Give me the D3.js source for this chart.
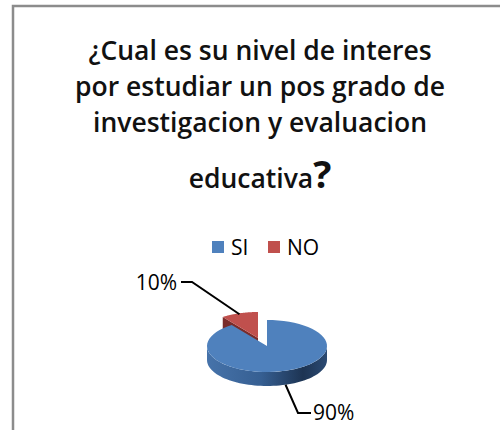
<!DOCTYPE html>
<html>
<head>
<meta charset="utf-8">
<script src="https://cdn.jsdelivr.net/npm/d3@7"></script>
<style>
  body { margin: 0; background: #fff; }
  svg { display: block; font-family: "Open Sans", "Noto Sans", sans-serif; }
</style>
</head>
<body>
<div id="chart"></div>
<script>
// data
const categories = ["SI", "NO"];
const values = [90, 10];
const labels = ["90%", "10%"];
const colors = ["#4F81BD", "#C0504D"];
const titleLines = [
  "¿Cual es su nivel de interes",
  "por estudiar un pos grado de",
  "investigacion y evaluacion",
  "educativa"
];

const width = 500, height = 430;

const svg = d3.select("#chart")
  .append("svg")
  .attr("width", width)
  .attr("height", height);

// chart frame (runs off right and bottom)
svg.append("rect")
  .attr("x", 13)
  .attr("y", 6)
  .attr("width", 600)
  .attr("height", 600)
  .attr("fill", "#fff")
  .attr("stroke", "#8c8c8c")
  .attr("stroke-width", 2.5);

// title
const title = svg.append("g").attr("font-weight", 600).attr("fill", "#111");
const titleX = 260;
const titleY = [60, 96, 132];
titleLines.slice(0, 3).forEach((t, i) => {
  title.append("text")
    .attr("x", titleX)
    .attr("y", titleY[i])
    .attr("text-anchor", "middle")
    .attr("font-size", 26.5)
    .text(t);
});
const last = title.append("text")
  .attr("x", titleX)
  .attr("y", 188)
  .attr("text-anchor", "middle")
  .attr("font-size", 26.5);
last.append("tspan").text(titleLines[3]);
last.append("tspan").attr("font-size", 38).attr("font-weight", 700).text("?");

// legend
const legend = svg.append("g").attr("transform", "translate(212,241)");
const legX = [0, 56];
categories.forEach((c, i) => {
  legend.append("rect")
    .attr("x", legX[i])
    .attr("y", 0)
    .attr("width", 12)
    .attr("height", 12)
    .attr("fill", colors[i]);
  legend.append("text")
    .attr("x", legX[i] + 19)
    .attr("y", 13.5)
    .attr("font-size", 21)
    .attr("fill", "#000")
    .text(c);
});

// 3D pie
const cx = 267, cy = 346, rx = 60, ry = 26, depth = 14;
const explodeOffset = [-9, -8];

const pie = d3.pie().sort(null).value((d) => d);
const arcs = pie(values);

// point on ellipse for a pie angle (0 = top, clockwise)
function pt(a, ox, oy, dz) {
  return [ox + rx * Math.sin(a), oy - ry * Math.cos(a) + (dz || 0)];
}

function topPath(a0, a1, ox, oy) {
  const p = d3.path();
  p.moveTo(ox, oy);
  const n = 60;
  for (let i = 0; i <= n; i++) {
    const a = a0 + (a1 - a0) * i / n;
    const q = pt(a, ox, oy);
    p.lineTo(q[0], q[1]);
  }
  p.closePath();
  return p.toString();
}

// outer side, only the front half (pi/2 .. 3pi/2) is visible
function sidePath(a0, a1, ox, oy) {
  const s = Math.max(a0, Math.PI / 2), e = Math.min(a1, 3 * Math.PI / 2);
  if (e <= s) return null;
  const p = d3.path();
  const n = 60;
  for (let i = 0; i <= n; i++) {
    const q = pt(s + (e - s) * i / n, ox, oy);
    i === 0 ? p.moveTo(q[0], q[1]) : p.lineTo(q[0], q[1]);
  }
  for (let i = n; i >= 0; i--) {
    const q = pt(s + (e - s) * i / n, ox, oy, depth);
    p.lineTo(q[0], q[1]);
  }
  p.closePath();
  return p.toString();
}

function wallPath(a, ox, oy) {
  const q = pt(a, ox, oy);
  return `M${ox},${oy}L${q[0]},${q[1]}L${q[0]},${q[1] + depth}L${ox},${oy + depth}Z`;
}

const defs = svg.append("defs");
const grad = defs.append("linearGradient")
  .attr("id", "sideBlue")
  .attr("gradientUnits", "userSpaceOnUse")
  .attr("x1", cx - rx).attr("x2", cx + rx)
  .attr("y1", 0).attr("y2", 0);
grad.append("stop").attr("offset", "0%").attr("stop-color", "#4673aa");
grad.append("stop").attr("offset", "45%").attr("stop-color", "#365f92");
grad.append("stop").attr("offset", "80%").attr("stop-color", "#1d3453");
grad.append("stop").attr("offset", "100%").attr("stop-color", "#2b4a73");

const pieG = svg.append("g");

// offsets per slice (the NO slice is pulled out)
const offs = arcs.map((d, i) =>
  i === 0 ? [cx, cy] : [cx + explodeOffset[0], cy + explodeOffset[1]]
);

// draw exploded NO slice first (it sits behind)
[1, 0].forEach((i) => {
  const d = arcs[i];
  const [ox, oy] = offs[i];
  const sp = sidePath(d.startAngle, d.endAngle, ox, oy);
  if (sp) pieG.append("path").attr("d", sp).attr("fill", i === 0 ? "url(#sideBlue)" : "#7d2f2d");
  if (i === 1) {
    pieG.append("path").attr("d", wallPath(d.startAngle, ox, oy)).attr("fill", "#7a2c2a");
  }
  pieG.append("path")
    .attr("d", topPath(d.startAngle, d.endAngle, ox, oy))
    .attr("fill", colors[i]);
});

// data labels with leader lines
const lab = svg.append("g").attr("font-size", 21).attr("fill", "#000");

// NO label
{
  const d = arcs[1];
  const m = (d.startAngle + d.endAngle) / 2;
  const [ox, oy] = offs[1];
  const a = pt(m, ox, oy);
  lab.append("path")
    .attr("d", `M${a[0]},${a[1] + 1}L192,282L181,282`)
    .attr("fill", "none").attr("stroke", "#000").attr("stroke-width", 2);
  lab.append("text").attr("x", 177).attr("y", 290).attr("text-anchor", "end").text(labels[1]);
}
// SI label
{
  const d = arcs[0];
  const m = (d.startAngle + d.endAngle) / 2;
  const [ox, oy] = offs[0];
  const a = pt(m, ox, oy, depth);
  lab.append("path")
    .attr("d", `M${a[0]},${a[1]}L298,413L311,413`)
    .attr("fill", "none").attr("stroke", "#000").attr("stroke-width", 2);
  lab.append("text").attr("x", 313).attr("y", 420).text(labels[0]);
}
</script>
</body>
</html>
